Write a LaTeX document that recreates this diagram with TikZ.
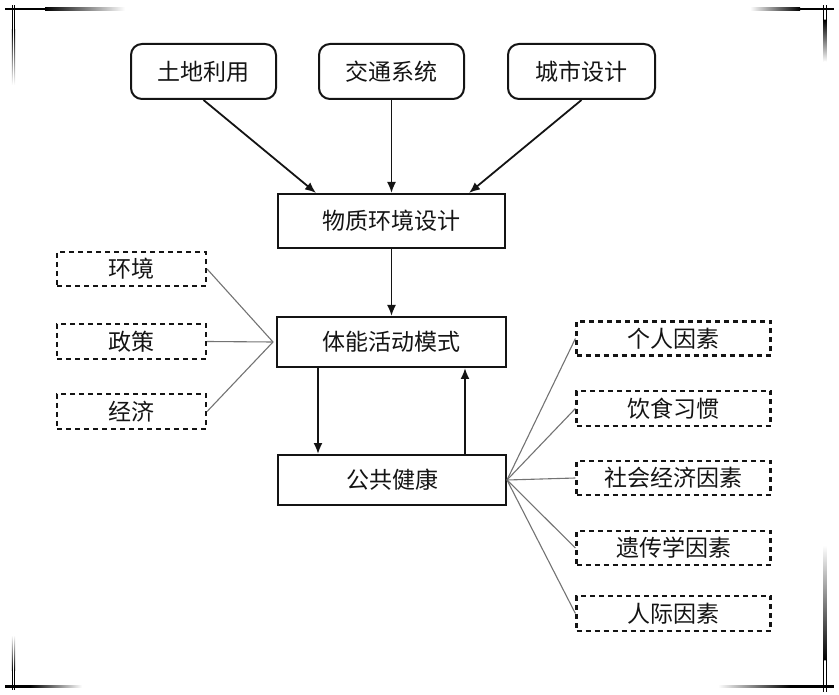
\documentclass[tikz,border=0pt]{standalone}
\usepackage{fontspec}
\newfontfamily\cjk{Noto Sans CJK SC}
\usetikzlibrary{arrows.meta}
\definecolor{ink}{HTML}{141414}
\tikzset{
  base/.style={font=\cjk\fontsize{23}{23}\selectfont, text=ink, inner sep=0pt, anchor=center},
  roundbox/.style={base, draw=ink, line width=2pt, rounded corners=11pt},
  solidbox/.style={base, draw=ink, line width=2pt},
  dashbox/.style={base, draw=ink, line width=2.2pt, dash pattern=on 5pt off 4pt},
  arr/.style={draw=ink, line width=1.8pt, -{Latex[length=11pt,width=9pt]}},
  thinline/.style={draw=black!55, line width=1.1pt},
}
\begin{document}
\begin{tikzpicture}[x=1pt,y=-1pt]
\useasboundingbox (0,0) rectangle (839,695);
% corner marks
\fill[black] (5,8) rectangle (45,10.5);
\shade[left color=black,right color=white] (45,8) rectangle (125,10.5);
\fill[black] (11.8,5) rectangle (12.9,30);
\fill[black] (14.1,5) rectangle (15.2,30);
\shade[top color=black,bottom color=white] (11.8,30) rectangle (12.9,85);
\shade[top color=black,bottom color=white] (14.1,30) rectangle (15.2,85);
\fill[black] (800,8) rectangle (834,10.5);
\shade[left color=white,right color=black] (750,8) rectangle (800,10.5);
\fill[black] (823.2,5) rectangle (824.3,20);
\fill[black] (825.5,5) rectangle (826.6,20);
\shade[top color=black,bottom color=white] (823.2,20) rectangle (824.3,62);
\shade[top color=black,bottom color=white] (825.5,20) rectangle (826.6,62);
\fill[black] (5,685) rectangle (30,687.5);
\shade[left color=black,right color=white] (30,685) rectangle (82,687.5);
\fill[black] (11.8,670) rectangle (12.9,690);
\fill[black] (14.1,670) rectangle (15.2,690);
\shade[top color=white,bottom color=black] (11.8,635) rectangle (12.9,670);
\shade[top color=white,bottom color=black] (14.1,635) rectangle (15.2,670);
\fill[black] (790,685) rectangle (834,687.5);
\shade[left color=white,right color=black] (718,685) rectangle (790,687.5);
\fill[black] (823.2,660) rectangle (824.3,692);
\fill[black] (825.5,660) rectangle (826.6,692);
\shade[top color=white,bottom color=black] (823.2,545) rectangle (824.3,660);
\shade[top color=white,bottom color=black] (825.5,545) rectangle (826.6,660);

% top boxes
\node[roundbox, minimum width=145pt, minimum height=55pt] (land) at (203.5,71.5) {土地利用};
\node[roundbox, minimum width=145pt, minimum height=55pt] (traffic) at (391.5,71.5) {交通系统};
\node[roundbox, minimum width=147pt, minimum height=55pt] (city) at (581.5,71.5) {城市设计};
% main column
\node[solidbox, minimum width=227pt, minimum height=54pt] (phys) at (391.5,221) {物质环境设计};
\node[solidbox, minimum width=229pt, minimum height=50pt] (act) at (391.5,342) {体能活动模式};
\node[solidbox, minimum width=228pt, minimum height=50pt] (health) at (392,480) {公共健康};
% left factors
\node[dashbox, minimum width=149pt, minimum height=34pt] (env) at (131.5,269) {环境};
\node[dashbox, minimum width=149pt, minimum height=35pt] (pol) at (131.5,341.5) {政策};
\node[dashbox, minimum width=149pt, minimum height=35pt] (eco) at (131.5,411.5) {经济};
% right factors
\node[dashbox, minimum width=194pt, minimum height=34pt] (r1) at (673.5,338.5) {个人因素};
\node[dashbox, minimum width=194pt, minimum height=35pt] (r2) at (673.5,408.5) {饮食习惯};
\node[dashbox, minimum width=194pt, minimum height=34pt] (r3) at (673.5,478) {社会经济因素};
\node[dashbox, minimum width=194pt, minimum height=34pt] (r4) at (673.5,548) {遗传学因素};
\node[dashbox, minimum width=194pt, minimum height=35pt] (r5) at (673.5,613.5) {人际因素};

% arrows
\draw[arr] (land.south) -- ([xshift=39pt]phys.north west);
\draw[arr] (traffic.south) -- (phys.north);
\draw[arr] (city.south) -- ([xshift=-37pt]phys.north east);
\draw[arr] (phys.south) -- (act.north);
\coordinate (d1) at ([xshift=42pt]act.south west);
\coordinate (u1) at ([xshift=-42pt]act.south east);
\draw[arr] (d1) -- (d1 |- health.north);
\draw[arr] (u1 |- health.north) -- (u1);

% thin connectors
\coordinate (lj) at ([xshift=-3pt]act.west);
\foreach \n in {env,pol,eco} \draw[thinline] (\n.east) -- (lj);
\foreach \n in {r1,r2,r3,r4,r5} \draw[thinline] (health.east) -- (\n.west);
\end{tikzpicture}
\end{document}
